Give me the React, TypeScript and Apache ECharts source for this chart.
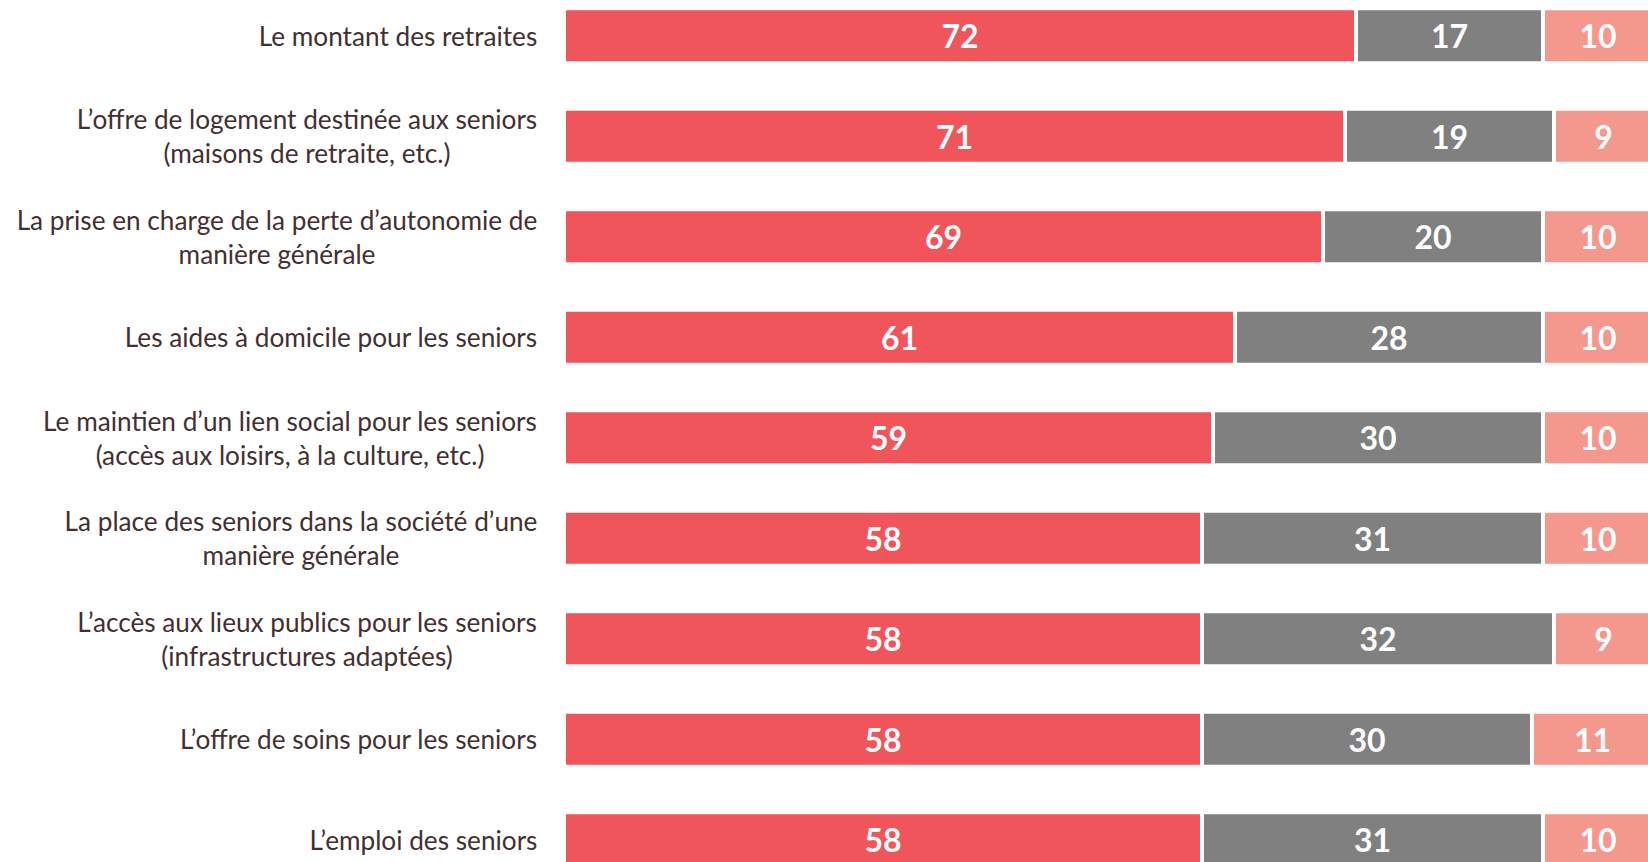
import React, { useEffect, useRef } from "react";
import * as echarts from "echarts";

const categories = [
  "Le montant des retraites",
  "L’offre de logement destinée aux seniors\n(maisons de retraite, etc.)",
  "La prise en charge de la perte d’autonomie de\nmanière générale",
  "Les aides à domicile pour les seniors",
  "Le maintien d’un lien social pour les seniors\n(accès aux loisirs, à la culture, etc.)",
  "La place des seniors dans la société d’une\nmanière générale",
  "L’accès aux lieux publics pour les seniors\n(infrastructures adaptées)",
  "L’offre de soins pour les seniors",
  "L’emploi des seniors",
];

const seriesA = [72, 71, 69, 61, 59, 58, 58, 58, 58];
const seriesB = [17, 19, 20, 28, 30, 31, 32, 30, 31];
const seriesC = [10, 9, 10, 10, 10, 10, 9, 11, 10];

const colors = ["#EF555A", "#808080", "#F4978D"];

const LABEL_FONT = "Lato";
const LABEL_SIZE = 26.2;
const LABEL_COLOR = "#432F31";

export default function App() {
  const ref = useRef<HTMLDivElement>(null);

  useEffect(() => {
    if (!ref.current) return;
    const chart = echarts.init(ref.current, undefined, { renderer: "svg" });

    // measure each label's widest line so the lines can be centred within the block
    const canvas = document.createElement("canvas");
    const ctx = canvas.getContext("2d")!;
    ctx.font = `${LABEL_SIZE}px ${LABEL_FONT}`;
    const rich: Record<string, any> = {};
    categories.forEach((c, i) => {
      const w = Math.max(...c.split("\n").map((l) => ctx.measureText(l).width));
      rich["r" + i] = {
        width: Math.ceil(w) + 1,
        align: "center",
        fontFamily: LABEL_FONT,
        fontSize: LABEL_SIZE,
        color: LABEL_COLOR,
        lineHeight: 34,
      };
    });

    const mk = (name: string, data: number[], color: string) => ({
      name,
      type: "bar",
      stack: "total",
      data,
      barWidth: 55,
      itemStyle: { color, borderColor: "#ffffff", borderWidth: 2 },
      label: {
        show: true,
        position: "inside",
        color: "#ffffff",
        fontFamily: "Lato",
        fontWeight: "bold",
        fontSize: 32,
      },
    });
    chart.setOption({
      animation: false,
      grid: { left: 564, top: 0.5, width: 1100, height: 904.5 },
      xAxis: {
        type: "value",
        min: 0,
        max: 100,
        show: false,
      },
      yAxis: {
        type: "category",
        inverse: true,
        data: categories,
        axisLine: { show: false },
        axisTick: { show: false },
        splitLine: { show: false },
        axisLabel: {
          margin: 26,
          color: LABEL_COLOR,
          fontFamily: LABEL_FONT,
          fontSize: LABEL_SIZE,
          lineHeight: 34,
          align: "right",
          formatter: (value: string, index: number) =>
            value
              .split("\n")
              .map((l) => `{r${index}|${l}}`)
              .join("\n"),
          rich,
        },
      },
      series: [
        mk("a", seriesA, colors[0]),
        mk("b", seriesB, colors[1]),
        mk("c", seriesC, colors[2]),
      ],
    });
    return () => chart.dispose();
  }, []);

  return (
    <div
      style={{
        position: "fixed",
        left: 0,
        top: 0,
        width: 1648,
        height: 862,
        overflow: "hidden",
        background: "#ffffff",
      }}
    >
      <div
        ref={ref}
        style={{ position: "absolute", left: 0, top: -15, width: 1720, height: 906 }}
      />
    </div>
  );
}
